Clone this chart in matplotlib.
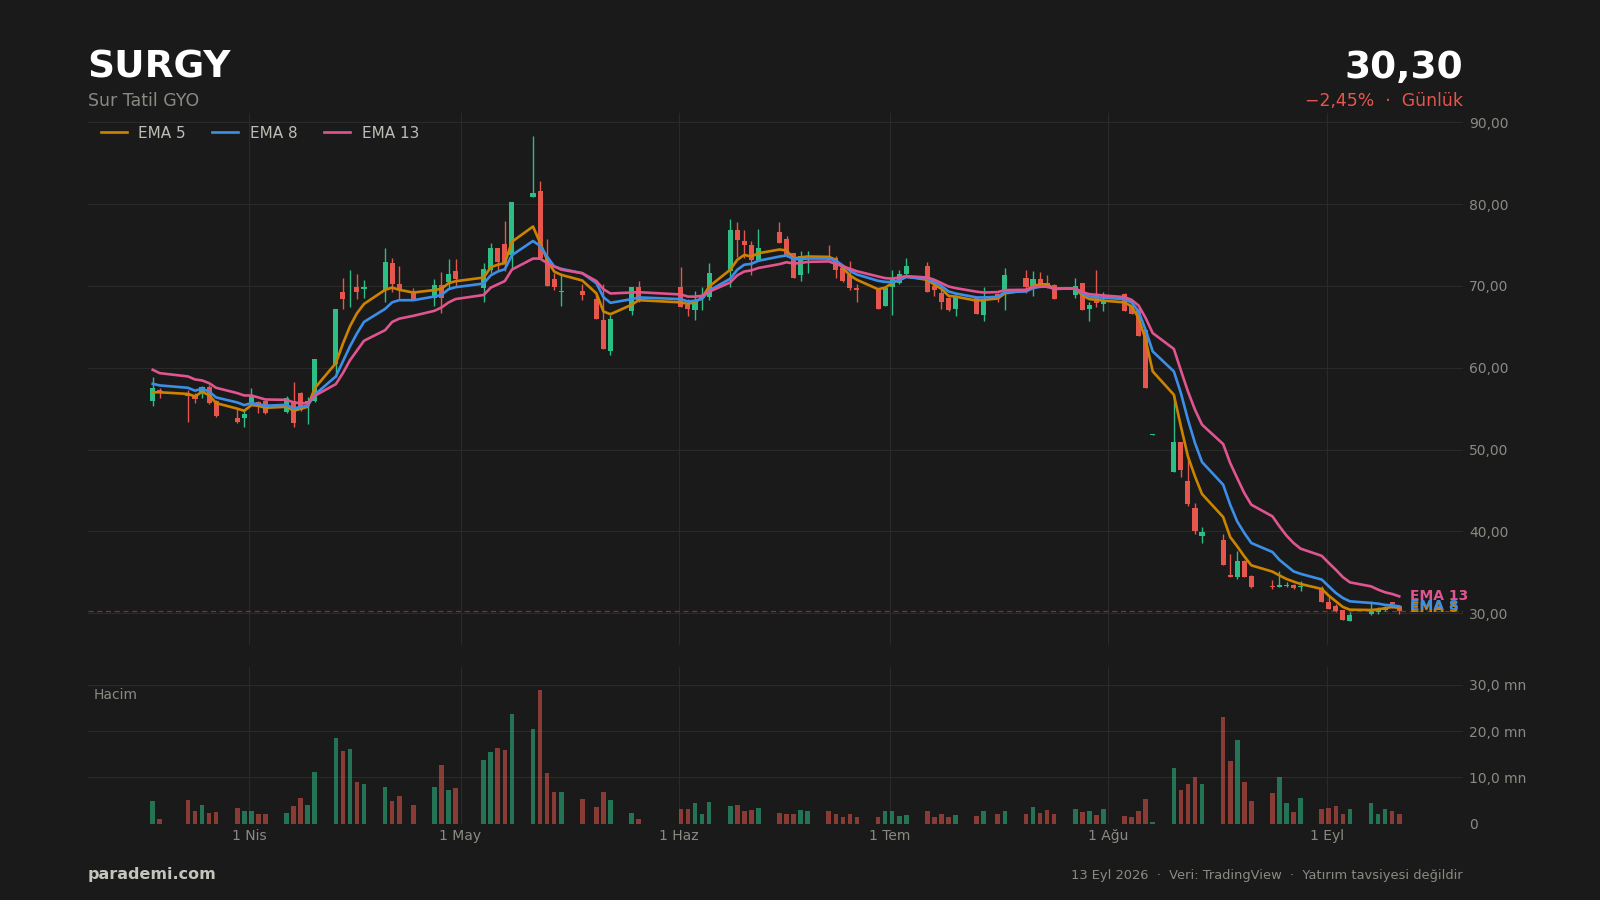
import matplotlib
matplotlib.use("Agg")
import matplotlib.pyplot as plt
import pandas as pd

dates_by_month = {
    "2026-03": [18, 19, 23, 24, 25, 26, 27, 30, 31],
    "2026-04": [1, 2, 3, 6, 7, 8, 9, 10, 13, 14, 15, 16, 17, 20, 21, 22, 24, 27, 28, 29, 30],
    "2026-05": [4, 5, 6, 7, 8, 11, 12, 13, 14, 15, 18, 20, 21, 22, 25, 26],
    "2026-06": [1, 2, 3, 4, 5, 8, 9, 10, 11, 12, 15, 16, 17, 18, 19, 22, 23, 24, 25, 26, 29, 30],
    "2026-07": [1, 2, 3, 6, 7, 8, 9, 10, 13, 14, 16, 17, 20, 21, 22, 23, 24, 27, 28, 29, 30, 31],
    "2026-08": [3, 4, 5, 6, 7, 10, 11, 12, 13, 14, 17, 18, 19, 20, 21, 24, 25, 26, 27, 28, 31],
    "2026-09": [1, 2, 3, 4, 7, 8, 9, 10, 11],
}

opens = [
    55.88, 57.3, 56.9, 56.7, 56.9, 57.7, 55.9, 53.8, 53.8,
    55.7, 55.8, 55.9, 54.6, 55.9, 56.9, 55.7, 55.9, 60.4, 69.3, 69.0, 69.9, 69.6, 69.5, 72.8, 70.3, 69.3, 68.5, 70.1, 70.5, 71.8,
    69.7, 72.0, 74.7, 75.1, 73.8, 80.9, 81.6, 73.4, 70.9, 69.3, 69.4, 68.4, 65.9, 62.1, 66.9, 69.9,
    69.9, 67.7, 67.1, 68.5, 68.7, 71.8, 76.9, 75.5, 74.95, 73.0, 76.6, 75.7, 74.0, 71.3, 73.5, 73.7, 73.4, 72.2, 71.4, 69.8, 69.65, 67.55,
    69.9, 70.35, 71.5, 72.5, 69.95, 69.2, 68.5, 67.2, 68.5, 66.4, 69.0, 69.3, 71.0, 70.0, 70.9, 70.4, 70.14, 68.9, 70.4, 67.2, 68.9, 67.8,
    69.0, 67.5, 67.1, 64.6, 51.75, 47.3, 50.96, 46.1, 42.9, 39.4, 38.98, 34.7, 34.46, 36.37, 34.54, 33.36, 33.23, 33.27, 33.4, 33.2, 33.07,
    31.4, 30.87, 30.34, 29.04, 29.9, 30.14, 30.34, 31.3, 30.9,
]
closes = [
    57.51, 56.9, 56.5, 56.2, 57.6, 55.7, 54.1, 53.4, 54.4,
    56.7, 55.35, 54.5, 56.3, 53.2, 54.8, 55.9, 61.1, 67.2, 68.4, 69.05, 69.3, 69.9, 72.9, 70.3, 69.5, 68.4, 70.1, 68.5, 71.5, 70.8,
    72.1, 74.7, 72.9, 72.8, 80.3, 81.4, 73.4, 70.0, 69.9, 69.4, 68.9, 66.0, 62.3, 66.0, 69.9, 68.3,
    67.4, 67.2, 68.1, 68.7, 71.6, 76.9, 75.6, 74.95, 73.2, 74.7, 75.3, 73.8, 71.0, 73.7, 73.7, 73.2, 71.9, 70.55, 69.8, 69.5, 67.2, 69.7,
    70.9, 71.5, 72.5, 69.3, 69.5, 68.1, 67.1, 68.7, 66.6, 68.3, 68.5, 71.3, 69.85, 70.9, 69.94, 69.8, 68.4, 70.0, 67.1, 67.7, 67.9, 68.3,
    66.96, 66.6, 63.85, 57.5, 51.85, 50.96, 47.45, 43.3, 40.1, 39.9, 35.84, 34.46, 36.37, 34.46, 33.2, 33.23, 33.44, 33.4, 33.07, 33.36, 31.36,
    30.55, 30.2, 29.2, 29.8, 30.3, 30.55, 30.67, 31.06, 30.3,
]
highs = [
    58.85, 57.5, 57.3, 56.9, 57.8, 57.9, 56.1, 54.9, 55.0,
    57.5, 55.9, 56.1, 56.6, 58.2, 57.0, 56.4, 61.1, 67.2, 71.0, 71.9, 71.5, 70.7, 74.6, 73.4, 72.5, 69.8, 70.8, 71.7, 73.3, 73.3,
    72.8, 75.3, 74.7, 77.9, 80.3, 88.3, 82.8, 75.8, 71.6, 71.6, 70.3, 69.1, 70.3, 66.5, 69.9, 70.6,
    72.3, 68.4, 69.4, 69.9, 72.8, 78.2, 77.8, 76.8, 75.5, 77.0, 77.8, 76.05, 74.0, 74.3, 74.3, 75.0, 73.7, 72.4, 73.1, 70.3, 69.65, 70.0,
    72.0, 71.9, 73.4, 72.9, 70.9, 69.95, 68.6, 68.9, 68.7, 69.9, 69.1, 72.2, 72.0, 71.8, 71.7, 71.4, 70.3, 71.0, 70.4, 68.0, 71.9, 69.25,
    69.1, 67.6, 67.3, 64.6, 51.85, 56.7, 50.96, 48.8, 43.45, 40.5, 39.67, 37.27, 37.55, 36.5, 34.7, 34.09, 35.2, 33.85, 33.5, 33.93, 33.36,
    31.97, 31.15, 30.4, 30.1, 31.45, 30.8, 30.9, 31.35, 30.95,
]
lows = [
    55.35, 56.3, 53.4, 55.7, 56.3, 55.6, 54.0, 53.2, 52.8,
    55.5, 54.5, 54.4, 54.5, 52.8, 54.7, 53.1, 55.8, 58.9, 67.2, 67.4, 68.4, 68.5, 68.0, 69.3, 68.3, 68.3, 67.5, 66.7, 69.7, 69.9,
    68.0, 71.6, 71.8, 71.8, 72.2, 80.9, 73.4, 70.0, 69.5, 67.6, 68.3, 66.0, 62.3, 61.6, 66.5, 68.0,
    67.4, 66.3, 65.9, 67.1, 68.3, 69.9, 73.6, 73.4, 71.3, 73.0, 75.3, 73.6, 71.0, 70.6, 71.6, 73.2, 71.0, 70.5, 69.45, 68.0, 67.2, 67.5,
    66.5, 70.2, 71.4, 69.3, 68.8, 67.2, 67.0, 66.35, 66.6, 65.7, 68.0, 67.1, 69.1, 68.8, 69.9, 69.8, 68.4, 68.5, 67.1, 65.75, 67.4, 67.0,
    66.9, 66.6, 63.85, 57.5, 51.75, 47.3, 46.7, 43.05, 39.7, 38.6, 35.84, 34.46, 34.17, 34.4, 33.1, 32.95, 33.15, 33.2, 33.0, 32.75, 31.3,
    30.5, 30.1, 29.2, 29.04, 29.8, 29.85, 30.2, 30.6, 29.95,
]
volumes = [
    4.83, 0.94, 5.05, 2.67, 3.9, 2.3, 2.4, 3.46, 2.8,
    2.67, 1.95, 1.95, 2.3, 3.75, 5.5, 3.97, 11.1, 18.6, 15.6, 16.1, 8.94, 8.5, 7.86, 4.76, 5.9, 3.97, 7.8, 12.76, 7.14, 7.64,
    13.7, 15.4, 16.3, 15.86, 23.6, 20.5, 28.8, 11.0, 6.8, 6.8, 5.26, 3.53, 6.78, 5.19, 2.23, 1.08,
    3.03, 3.1, 4.4, 2.16, 4.6, 3.75, 3.97, 2.67, 2.88, 3.3, 2.23, 2.16, 2.16, 2.88, 2.8, 2.6, 2.0, 1.5, 1.95, 1.37, 1.5, 2.67,
    2.8, 1.6, 1.8, 2.6, 1.5, 2.0, 1.3, 1.8, 1.6, 2.67, 1.95, 2.67, 1.95, 3.53, 2.23, 2.88, 2.16, 3.1, 2.38, 2.67, 1.8, 3.03,
    1.73, 1.3, 2.6, 5.4, 0.3, 12.1, 7.35, 8.5, 9.95, 8.5, 23.0, 13.6, 18.0, 9.08, 4.83, 6.5, 10.0, 4.33, 2.45, 5.48, 3.1,
    3.3, 3.75, 2.0, 3.24, 4.33, 2.16, 3.03, 2.6, 2.16,
]
ema5 = [
    57.0, 57.0, 56.8, 56.5, 57.06, 56.65, 55.68, 55.0, 54.74,
    55.43, 55.35, 55.1, 55.23, 54.74, 54.98, 55.23, 57.5, 60.56, 62.93, 65.05, 66.67, 67.8, 69.53, 69.8, 69.53, 69.2, 69.5, 69.65, 70.34, 70.58,
    71.03, 72.3, 72.6, 72.8, 75.4, 77.27, 75.3, 73.2, 71.77, 71.36, 70.67, 69.1, 66.88, 66.55, 67.7, 68.26,
    68.0, 67.8, 68.06, 68.5, 69.93, 71.98, 73.2, 73.8, 73.6, 74.0, 74.46, 74.34, 73.36, 73.5, 73.6, 73.56, 73.2, 72.18, 71.3, 70.75, 69.6, 69.8,
    70.35, 70.75, 71.15, 70.75, 70.14, 69.65, 68.8, 68.7, 68.2, 68.3, 68.47, 69.1, 69.45, 70.0, 70.2, 70.2, 69.65, 69.7, 68.84, 68.4, 68.3, 68.2,
    68.0, 67.5, 66.07, 63.4, 59.55, 56.7, 52.83, 49.15, 46.72, 44.56, 41.75, 39.3, 38.16, 36.94, 35.84, 35.07, 34.6, 34.17, 33.85, 33.56, 32.95,
    32.13, 31.44, 30.75, 30.42, 30.38, 30.46, 30.6, 30.75, 30.63,
]
ema8 = [
    58.04, 57.84, 57.55, 57.2, 57.43, 57.1, 56.37, 55.76, 55.43,
    55.68, 55.55, 55.35, 55.47, 55.0, 55.2, 55.35, 56.7, 58.94, 60.77, 62.6, 64.2, 65.6, 67.2, 68.0, 68.26, 68.26, 68.71, 68.9, 69.6, 69.85,
    70.3, 71.3, 71.77, 72.05, 73.76, 75.5, 74.9, 73.6, 72.4, 72.1, 71.56, 70.34, 68.63, 67.94, 68.39, 68.6,
    68.39, 68.1, 68.2, 68.43, 69.44, 70.88, 71.98, 72.6, 72.7, 73.08, 73.6, 73.73, 73.28, 73.28, 73.36, 73.36, 73.08, 72.5, 71.85, 71.4, 70.63, 70.5,
    70.47, 70.7, 71.1, 70.88, 70.47, 70.0, 69.33, 69.08, 68.6, 68.6, 68.68, 69.25, 69.33, 69.74, 69.9, 69.94, 69.65, 69.7, 69.1, 68.72, 68.64, 68.55,
    68.4, 67.98, 66.88, 64.6, 62.0, 59.55, 56.9, 53.65, 50.8, 48.47, 45.7, 43.25, 41.2, 39.8, 38.57, 37.47, 36.5, 35.8, 35.1, 34.8, 34.1,
    33.27, 32.46, 31.85, 31.44, 31.24, 31.16, 31.0, 30.95, 30.83,
]
ema13 = [
    59.75, 59.34, 58.94, 58.57, 58.45, 58.12, 57.55, 56.9, 56.61,
    56.61, 56.37, 56.12, 56.08, 55.76, 55.68, 55.64, 56.57, 58.0, 59.34, 60.9, 62.1, 63.3, 64.6, 65.6, 66.0, 66.35, 66.96, 67.37, 67.98, 68.4,
    68.9, 69.8, 70.2, 70.6, 72.0, 73.35, 73.35, 72.8, 72.4, 72.0, 71.56, 70.6, 69.6, 69.08, 69.2, 69.24,
    68.96, 68.7, 68.7, 68.8, 69.3, 70.43, 71.3, 71.77, 71.9, 72.2, 72.67, 72.9, 72.75, 72.8, 72.95, 73.0, 72.7, 72.4, 72.1, 71.8, 71.16, 70.96,
    70.9, 71.04, 71.2, 71.04, 70.75, 70.35, 69.94, 69.74, 69.3, 69.2, 69.25, 69.5, 69.53, 69.86, 69.94, 69.94, 69.65, 69.7, 69.25, 69.0, 68.92, 68.84,
    68.64, 68.3, 67.6, 66.07, 64.24, 62.3, 59.67, 57.1, 54.87, 53.04, 50.67, 48.35, 46.5, 44.68, 43.25, 41.83, 40.6, 39.47, 38.57, 37.88, 37.0,
    36.13, 35.3, 34.4, 33.76, 33.27, 32.87, 32.54, 32.34, 32.05,
]

last_price = 30.30
price_ticks = [30, 40, 50, 60, 70, 80, 90]
price_labels = ["30,00", "40,00", "50,00", "60,00", "70,00", "80,00", "90,00"]
volume_ticks = [0, 10, 20, 30]
volume_labels = ["0", "10,0 mn", "20,0 mn", "30,0 mn"]
month_ticks = ["2026-04-01", "2026-05-01", "2026-06-01", "2026-07-01", "2026-08-01", "2026-09-01"]
month_labels = ["1 Nis", "1 May", "1 Haz", "1 Tem", "1 Ağu", "1 Eyl"]
ema_names = ["EMA 5", "EMA 8", "EMA 13"]

BG = "#1a1a1a"
GRID = "#2a2a2a"
MUTED = "#8a8a84"
UP = "#2ebd85"
DOWN = "#e5574d"
EMA_COLORS = ["#cc8400", "#3b8fe8", "#e0558f"]

W, H = 1600, 900
plt.rcParams["font.family"] = ["DejaVu Sans"]
fig = plt.figure(figsize=(W / 100, H / 100), dpi=100, facecolor=BG)


def box(left, top, right, bottom):
    return [left / W, 1 - bottom / H, (right - left) / W, (bottom - top) / H]


ax = fig.add_axes(box(88, 113, 1463, 645), facecolor=BG)
axv = fig.add_axes(box(88, 667, 1463, 823.5), facecolor=BG, sharex=ax)

x = pd.to_datetime([f"{m}-{d:02d}" for m, days in dates_by_month.items() for d in days]) + pd.Timedelta(hours=7)
ticks_x = pd.to_datetime(month_ticks)
bar_colors = [UP if c >= o else DOWN for o, c in zip(opens, closes)]

ax.vlines(x, lows, highs, colors=bar_colors, linewidth=1.0, zorder=2)
ax.bar(x, [abs(c - o) for o, c in zip(opens, closes)], bottom=[min(o, c) for o, c in zip(opens, closes)],
       width=0.72, color=bar_colors, linewidth=0, zorder=3)
ax.axhline(last_price, color=DOWN, alpha=0.45, linewidth=0.9, dashes=(4, 3), zorder=1.5)

for name, values, col in zip(ema_names, [ema5, ema8, ema13], EMA_COLORS):
    ax.plot(x, values, color=col, linewidth=1.9, label=name, zorder=4, solid_joinstyle="round")
    ax.annotate(name, (x[-1], values[-1]), xytext=(8, 0), textcoords="offset points", color=col,
                fontsize=10, fontweight="bold", va="center", ha="left", zorder=5, annotation_clip=False)

axv.bar(x, volumes, width=0.66, color=bar_colors, alpha=0.55, linewidth=0, zorder=3)

ax.set_ylim(26.1, 91.15)
axv.set_ylim(0, 33.85)
ax.set_xlim(pd.Timestamp("2026-04-01") - pd.Timedelta(days=22.9), pd.Timestamp("2026-04-01") + pd.Timedelta(days=172.35))

ax.set_yticks(price_ticks, price_labels)
axv.set_yticks(volume_ticks, volume_labels)
axv.set_xticks(ticks_x, month_labels)
ax.tick_params(axis="x", labelbottom=False, length=0)
axv.tick_params(axis="x", length=0, labelcolor=MUTED, labelsize=10, pad=4)
for a in (ax, axv):
    a.yaxis.tick_right()
    a.tick_params(axis="y", length=0, labelcolor=MUTED, labelsize=10, pad=4.5)
    a.grid(True, color=GRID, linewidth=0.8, zorder=0)
    a.set_axisbelow(True)
    for s in a.spines.values():
        s.set_visible(False)

leg = ax.legend(loc="upper left", ncol=3, frameon=False, fontsize=11, handlelength=1.7, handletextpad=0.75,
                columnspacing=1.75, bbox_to_anchor=(0.0, 1.0), borderaxespad=0.45, borderpad=0.38)
for t in leg.get_texts():
    t.set_color("#bdbdb6")
for ln in leg.get_lines():
    ln.set_linewidth(1.9)

fig.text(94 / W, 1 - 695 / H, "Hacim", color=MUTED, fontsize=10, va="center", ha="left")

fig.text(87.5 / W, 1 - 78 / H, "SURGY", color="white", fontsize=27, fontweight="bold", va="baseline", ha="left")
fig.text(88 / W, 1 - 106 / H, "Sur Tatil GYO", color=MUTED, fontsize=12.5, va="baseline", ha="left")
fig.text(1463 / W, 1 - 78 / H, "30,30", color="white", fontsize=27, fontweight="bold", va="baseline", ha="right")
fig.text(1463 / W, 1 - 106 / H, "−2,45%  ·  Günlük", color=DOWN, fontsize=12.4, va="baseline", ha="right")
fig.text(88 / W, 1 - 879 / H, "parademi.com", color="#c4c4bc", fontsize=11.5, fontweight="bold", va="baseline", ha="left")
fig.text(1463 / W, 1 - 879 / H, "13 Eyl 2026  ·  Veri: TradingView  ·  Yatırım tavsiyesi değildir", color=MUTED,
         fontsize=9.4, va="baseline", ha="right")

fig.savefig("out.png", dpi=100, facecolor=BG)
